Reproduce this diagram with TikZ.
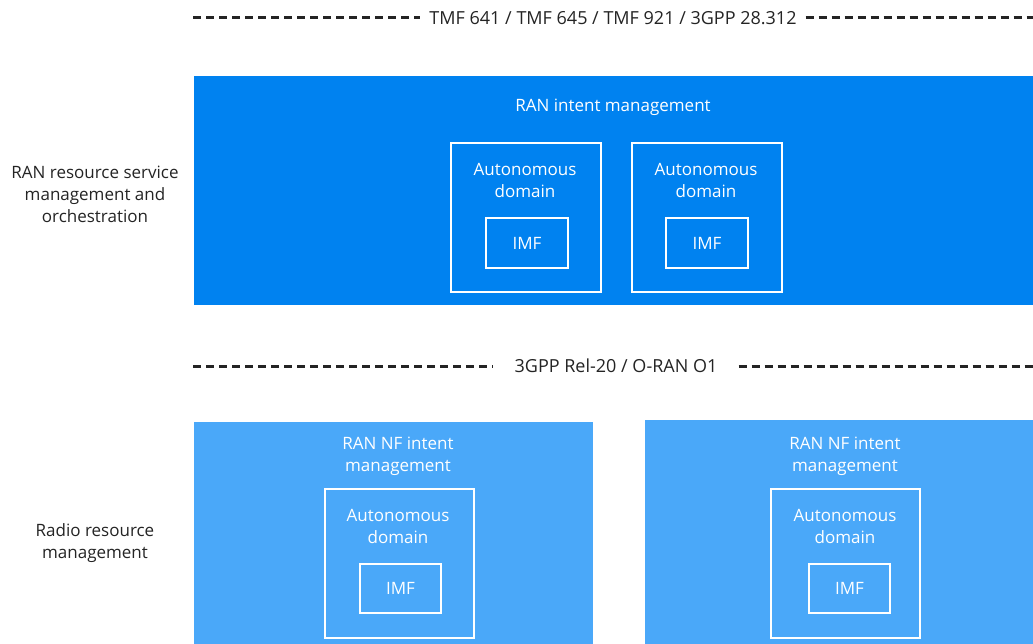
\documentclass[tikz,border=0pt]{standalone}
\usepackage{fontspec}
\setmainfont{Open Sans}
\definecolor{ranblue}{HTML}{0082F0}
\definecolor{nfblue}{HTML}{4AA8F9}
\definecolor{labelgrey}{HTML}{242424}
\begin{document}
\begin{tikzpicture}[x=1pt,y=-1pt,
  every node/.style={font=\fontsize{17}{22}\selectfont, inner sep=0pt},
  framebox/.style={draw=white, line width=2pt, anchor=north west},
  whitetext/.style={text=white, align=center},
  sidetext/.style={text=labelgrey, align=center},
  reftext/.style={text=labelgrey, anchor=center, font=\fontsize{18}{22}\selectfont},
  refline/.style={draw=labelgrey, line width=3pt, dash pattern=on 8pt off 5pt}]
  \useasboundingbox (0,0) rectangle (1033,644);

  % interface reference lines
  \node[reftext] (toplabel) at (613,18) {TMF 641 / TMF 645 / TMF 921 / 3GPP 28.312};
  \coordinate (topL) at (193,18);
  \coordinate (topR) at (1033,18);
  \draw[refline] (topL) -- ([xshift=-9pt]toplabel.west);
  \draw[refline] ([xshift=9pt]toplabel.east) -- (topR);

  \node[reftext] (midlabel) at (616,366) {3GPP Rel-20 / O-RAN O1};
  \coordinate (midL) at (193,366);
  \coordinate (midR) at (1033,366);
  \draw[refline] (midL) -- ([xshift=-21pt]midlabel.west);
  \draw[refline] ([xshift=21pt]midlabel.east) -- (midR);

  % RAN intent management layer
  \fill[ranblue] (194,76) rectangle (1033,305);
  \node[whitetext] (ranim) at (613,107) {RAN intent management};
  \node[framebox, minimum width=150pt, minimum height=149pt] (ad1) at (450,142) {};
  \node[framebox, minimum width=150pt, minimum height=149pt] (ad2) at (631,142) {};
  \node[whitetext] (ad1t) at (525,180) {Autonomous\\domain};
  \node[whitetext] (ad2t) at (706,180) {Autonomous\\domain};
  \node[framebox, minimum width=82pt, minimum height=50pt] (imf1) at (485,217) {};
  \node[framebox, minimum width=82pt, minimum height=50pt] (imf2) at (665,217) {};
  \node[whitetext] at (imf1.center) {IMF};
  \node[whitetext] at (imf2.center) {IMF};

  % RAN NF intent management layer
  \fill[nfblue] (194,422) rectangle (593,644);
  \fill[nfblue] (645,420) rectangle (1033,644);
  \node[whitetext] (nf1t) at (398,456) {RAN NF intent\\management};
  \node[whitetext] (nf2t) at (845,456) {RAN NF intent\\management};
  \node[framebox, minimum width=149pt, minimum height=149pt] (ad3) at (324,488) {};
  \node[framebox, minimum width=149pt, minimum height=149pt] (ad4) at (770,488) {};
  \node[whitetext] (ad3t) at (398,526) {Autonomous\\domain};
  \node[whitetext] (ad4t) at (845,526) {Autonomous\\domain};
  \node[framebox, minimum width=81pt, minimum height=49pt] (imf3) at (359,563) {};
  \node[framebox, minimum width=81pt, minimum height=49pt] (imf4) at (808,563) {};
  \node[whitetext] at (imf3.center) {IMF};
  \node[whitetext] at (imf4.center) {IMF};

  % layer labels
  \node[sidetext] (lay1) at (95,194) {RAN resource service\\management and\\orchestration};
  \node[sidetext] (lay2) at (95,543) {Radio resource\\management};
\end{tikzpicture}
\end{document}
